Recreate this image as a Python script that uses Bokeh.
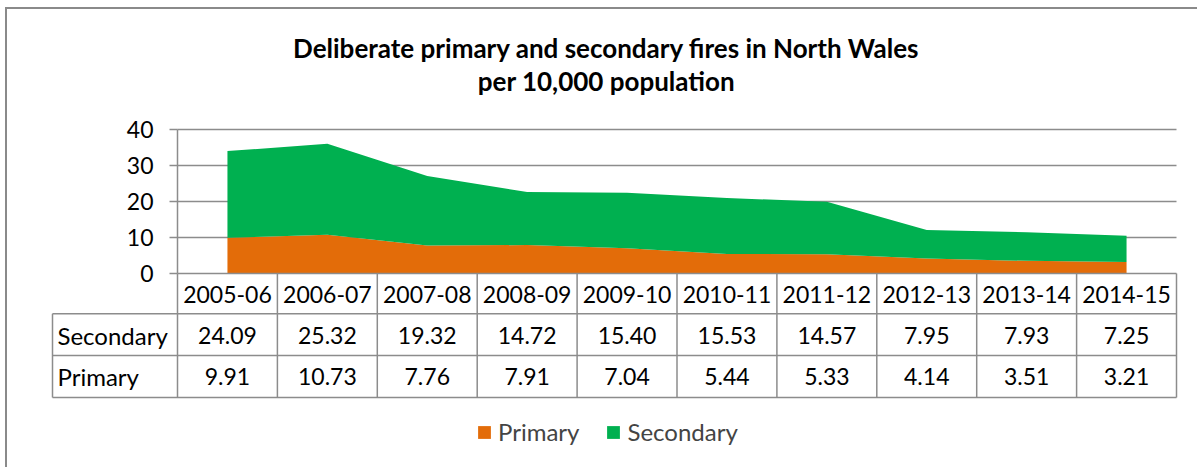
from bokeh.plotting import figure
from bokeh.models import Range1d, LinearAxis, FixedTicker, Legend, LegendItem, ColumnDataSource
from bokeh.core.properties import value
from bokeh.embed import file_html
from bokeh.resources import INLINE

# ---------------- data ----------------
years = ["2005-06", "2006-07", "2007-08", "2008-09", "2009-10",
         "2010-11", "2011-12", "2012-13", "2013-14", "2014-15"]
primary = [9.91, 10.73, 7.76, 7.91, 7.04, 5.44, 5.33, 4.14, 3.51, 3.21]
secondary = [24.09, 25.32, 19.32, 14.72, 15.40, 15.53, 14.57, 7.95, 7.93, 7.25]
y_ticks = [0, 10, 20, 30, 40]
title_lines = ["Deliberate primary and secondary fires in North Wales",
               "per 10,000 population"]
row_labels = ["Secondary", "Primary"]

# ---------------- layout / style constants ----------------
W, H = 1192, 460
OX, OY = 7, 9            # canvas position on page
X0_PX, XU = 177, 99.9    # px of x=0, px per category
Y0_PX, YU = 273, 3.6     # px of y=0, px per unit
FONT = "Lato"
FS = "23px"
FS_WORD = "24px"
GRAY = "#8c8c8c"
ORANGE = "#E36C09"
GREEN = "#00B050"

def ypx(py):
    return (Y0_PX - py) / YU

def xpx(px):
    return (px - X0_PX) / XU

x_range = Range1d((OX - X0_PX) / XU, (OX + W - X0_PX) / XU)
y_range = Range1d((Y0_PX - OY - H) / YU, (Y0_PX - OY) / YU)

p = figure(width=W, height=H, x_range=x_range, y_range=y_range,
           x_axis_location=None, y_axis_location=None,
           toolbar_location=None, output_backend="svg",
           min_border=0, outline_line_color=None)
p.grid.grid_line_color = None
p.styles = {"border-left": "2px solid #8a8a8a", "border-top": "2px solid #8a8a8a",
            "margin-left": "5px", "margin-top": "7px"}

n = len(years)
xs = [i + 0.5 for i in range(n)]
src = ColumnDataSource(dict(x=xs, primary=primary, secondary=secondary))

# grid lines (value axis)
grid_ticks = [t for t in y_ticks if t != 0]
p.segment(x0=[0] * len(grid_ticks), x1=[n] * len(grid_ticks), y0=grid_ticks, y1=grid_ticks,
          line_color=GRAY, line_width=1.5)

# stacked areas
rs = p.varea_stack(["primary", "secondary"], x="x", color=[ORANGE, GREEN], source=src)

# y axis
yax = LinearAxis(fixed_location=0, ticker=FixedTicker(ticks=y_ticks), bounds=(0, 40),
                 major_tick_out=8, major_tick_in=0, minor_tick_line_color=None,
                 axis_line_color=GRAY, axis_line_width=1.5,
                 major_tick_line_color=GRAY, major_tick_line_width=1.5,
                 major_label_standoff=16,
                 major_label_text_font=FONT, major_label_text_font_size=FS,
                 major_label_text_color="black")
p.add_layout(yax, "left")

# data table
HB = ypx(313.3)
R1 = ypx(355)
R2 = ypx(397)
LC = xpx(52)
hy = [0, HB, R1, R2]
hx0 = [0, LC, LC, LC]
p.segment(x0=hx0, x1=[n] * 4, y0=hy, y1=hy, line_color=GRAY, line_width=1.5)
vx = list(range(n + 1)) + [LC]
vy0 = [0] * (n + 1) + [HB]
p.segment(x0=vx, x1=vx, y0=vy0, y1=[R2] * (n + 2), line_color=GRAY, line_width=1.5)

txt = dict(text_font=value(FONT), text_color="black", text_baseline="alphabetic")
p.text(x=xs, y=[ypx(294)] * n, text=years, text_align="center", text_font_size=FS, **txt)
p.text(x=xs, y=[ypx(335)] * n, text=[f"{v:.2f}" for v in secondary], text_align="center",
       text_font_size=FS, **txt)
p.text(x=xs, y=[ypx(376)] * n, text=[f"{v:.2f}" for v in primary], text_align="center",
       text_font_size=FS, **txt)
p.text(x=[LC, LC], y=[ypx(335), ypx(376)], text=row_labels, text_align="left",
       x_offset=5, text_font_size=FS_WORD, **txt)

# title
p.text(x=[xpx(606)] * 2, y=[ypx(47), ypx(80)], text=title_lines, text_align="center",
       text_font=value(FONT), text_font_size="26px", text_font_style="bold",
       text_color="black", text_baseline="alphabetic")

# legend
legend = Legend(items=[LegendItem(label="Primary", renderers=[rs[0]]),
                       LegendItem(label="Secondary", renderers=[rs[1]])],
                orientation="horizontal", location=(476 - OX, OY + H - 446),
                padding=0, margin=0, spacing=26, glyph_width=16, glyph_height=16,
                label_standoff=6, border_line_color=None, background_fill_alpha=0,
                label_text_font=FONT, label_text_font_size=FS_WORD, label_height=16)
p.add_layout(legend)

open("out.html", "w").write(file_html(p, INLINE))
